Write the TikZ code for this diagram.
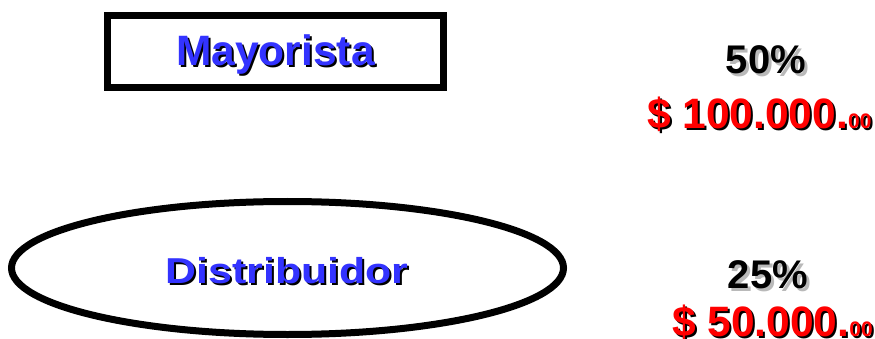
\documentclass[tikz,border=0pt]{standalone}
\usepackage{fontspec}
\setmainfont{Liberation Sans}
\usetikzlibrary{shapes.geometric}
\definecolor{txtblue}{RGB}{51,51,255}
\definecolor{txtred}{RGB}{255,0,0}
\definecolor{shgray}{RGB}{185,185,185}
\tikzset{
  frame/.style={draw=black, line width=7pt, inner sep=0pt},
  big/.style={font=\fontsize{40}{48}\selectfont\bfseries, inner sep=0pt},
  bigger/.style={font=\fontsize{42.5}{50}\selectfont\bfseries, inner sep=0pt},
  midfont/.style={font=\fontsize{36}{42}\selectfont\bfseries, inner sep=0pt},
}
\newcommand{\cents}[1]{{\fontsize{21}{25}\selectfont #1}}
\begin{document}
\begin{tikzpicture}[x=1pt,y=-1pt]
\useasboundingbox[fill=white] (0,0) rectangle (875,339);
% shapes
\node[frame, rectangle, minimum width=336pt, minimum height=71.5pt] (boxM) at (275.5,51.75) {};
\node[frame, ellipse, minimum width=552pt, minimum height=133pt] (ellD) at (287.5,268) {};
% Mayorista
\node[bigger, anchor=base, text=black] (mayS) at (277.5,68) {Mayorista};
\node[bigger, anchor=base, text=txtblue] (may) at (275.5,66) {Mayorista};
% Distribuidor
\node[midfont, anchor=base, text=black] (disS) at (289,285) {\scalebox{1.19}[1]{Distribuidor}};
\node[midfont, anchor=base, text=txtblue] (dis) at (287,283) {\scalebox{1.19}[1]{Distribuidor}};
% 50%
\node[big, anchor=base, text=shgray] (p50S) at (769,77) {50\%};
\node[big, anchor=base, text=black] (p50) at (766,74) {50\%};
% $ 100.000.00
\node[bigger, anchor=base west, text=black] (m100S) at (649,131) {\$ 100.000.\cents{00}};
\node[bigger, anchor=base west, text=txtred] (m100) at (647,129) {\$ 100.000.\cents{00}};
% 25%
\node[big, anchor=base, text=shgray] (p25S) at (771,291) {25\%};
\node[big, anchor=base, text=black] (p25) at (768,288) {25\%};
% $ 50.000.00
\node[bigger, anchor=base west, text=black] (m50S) at (674,338) {\$ 50.000.\cents{00}};
\node[bigger, anchor=base west, text=txtred] (m50) at (672,336) {\$ 50.000.\cents{00}};
\end{tikzpicture}
\end{document}
